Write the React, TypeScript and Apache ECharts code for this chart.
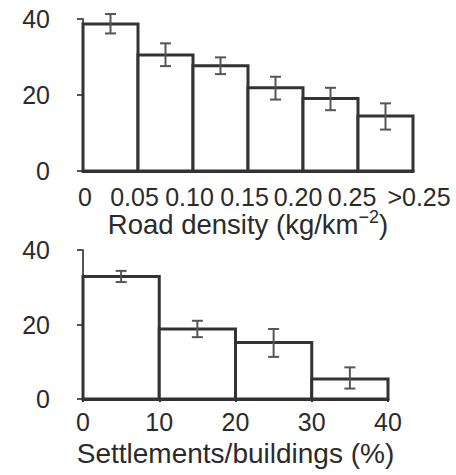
import React, { useEffect, useRef } from "react";
import * as echarts from "echarts";

const roadLabels = ["0", "0.05", "0.10", "0.15", "0.20", "0.25", ">0.25"];
const roadValues = [38.7, 30.5, 27.7, 21.9, 19.1, 14.5];
const roadErrLow = [36.2, 27.6, 25.5, 18.8, 16.0, 10.9];
const roadErrHigh = [41.3, 33.6, 29.9, 24.8, 21.9, 17.8];

const settleEdges = [0, 10, 20, 30, 40];
const settleValues = [32.9, 18.8, 15.2, 5.4];
const settleErrLow = [31.4, 16.6, 11.3, 2.8];
const settleErrHigh = [34.4, 21.0, 18.8, 8.5];

const yTicks = [0, 20, 40];

// horizontal nudges of the hand-set road-density labels (px, + = right)
const roadLabelShift = [2, -3.5, -3.5, -3.5, -5, -6, 6];

const FONT = "Liberation Sans, Arial, Helvetica, sans-serif";
const TEXT = "#2b2b2b";
const BAR = "#333333";
const ERR = "#555555";
const TICK_FS = 25;

function barItem(params: any, api: any) {
  const x0 = api.value(0);
  const x1 = api.value(1);
  const v = api.value(2);
  const p0 = api.coord([x0, v]);
  const p1 = api.coord([x1, 0]);
  return {
    type: "rect",
    shape: { x: p0[0], y: p0[1], width: p1[0] - p0[0], height: p1[1] - p0[1] },
    style: { fill: "#ffffff", stroke: BAR, lineWidth: 3 },
  };
}

function errItem(params: any, api: any) {
  const xc = (api.value(0) + api.value(1)) / 2;
  const lo = api.coord([xc, api.value(3)]);
  const hi = api.coord([xc, api.value(4)]);
  const w = 5.5;
  const style = { stroke: ERR, lineWidth: 2 };
  return {
    type: "group",
    children: [
      { type: "line", shape: { x1: lo[0], y1: lo[1], x2: hi[0], y2: hi[1] }, style },
      { type: "line", shape: { x1: lo[0] - w, y1: lo[1], x2: lo[0] + w, y2: lo[1] }, style },
      { type: "line", shape: { x1: hi[0] - w, y1: hi[1], x2: hi[0] + w, y2: hi[1] }, style },
    ],
  };
}

export default function App() {
  const ref = useRef<HTMLDivElement>(null);
  useEffect(() => {
    if (!ref.current) return;
    const chart = echarts.init(ref.current, undefined, { renderer: "svg" });
    const roadData = roadValues.map((v, i) => [i, i + 1, v, roadErrLow[i], roadErrHigh[i]]);
    const settleData = settleValues.map((v, i) => [
      settleEdges[i],
      settleEdges[i + 1],
      v,
      settleErrLow[i],
      settleErrHigh[i],
    ]);
    const roadRich: any = {};
    roadLabelShift.forEach((s, i) => {
      roadRich["l" + i] = {
        fontSize: TICK_FS,
        color: TEXT,
        fontFamily: FONT,
        padding: s >= 0 ? [0, 0, 0, 2 * s] : [0, -2 * s, 0, 0],
      };
    });
    const yAxisCommon = {
      type: "value",
      min: yTicks[0],
      max: yTicks[yTicks.length - 1],
      interval: 20,
      offset: 20,
      axisLine: { show: true, lineStyle: { color: "#555", width: 2 } },
      axisTick: { show: true, length: 6, lineStyle: { color: "#555", width: 2 } },
      splitLine: { show: false },
      axisLabel: { fontSize: TICK_FS, color: TEXT, fontFamily: FONT, margin: 13 },
    };
    chart.setOption({
      animation: false,
      backgroundColor: "#ffffff",
      grid: [
        { left: 83, right: 43, top: 19, height: 152 },
        { left: 83, right: 68, top: 250, height: 149 },
      ],
      xAxis: [
        {
          type: "value",
          gridIndex: 0,
          min: 0,
          max: 6,
          interval: 1,
          axisLine: { show: true, lineStyle: { color: BAR, width: 3 } },
          axisTick: { show: false },
          splitLine: { show: false },
          axisLabel: {
            fontSize: TICK_FS,
            color: TEXT,
            fontFamily: FONT,
            margin: 13,
            formatter: (val: number) => {
              const i = Math.round(val);
              return "{l" + i + "|" + roadLabels[i] + "}";
            },
            rich: roadRich,
          },
          name: "{n|Road density (kg/km}{s|−2}{n|)}",
          nameLocation: "middle",
          nameGap: 37,
          nameMoveOverlap: false,
          nameTextStyle: {
            rich: {
              n: { fontSize: 27.5, color: TEXT, fontFamily: FONT, lineHeight: 32 },
              s: { fontSize: 18, color: TEXT, fontFamily: FONT, lineHeight: 16, verticalAlign: "top" },
            },
          },
        },
        {
          type: "value",
          gridIndex: 1,
          min: settleEdges[0],
          max: settleEdges[settleEdges.length - 1],
          interval: 10,
          axisLine: { show: true, lineStyle: { color: BAR, width: 3 } },
          axisTick: { show: true, length: 3, lineStyle: { color: BAR, width: 2 } },
          splitLine: { show: false },
          axisLabel: { fontSize: TICK_FS, color: TEXT, fontFamily: FONT, margin: 10 },
          name: "Settlements/buildings (%)",
          nameLocation: "middle",
          nameGap: 40,
          nameMoveOverlap: false,
          nameTextStyle: { fontSize: 28, color: TEXT, fontFamily: FONT },
        },
      ],
      yAxis: [
        { ...yAxisCommon, gridIndex: 0 },
        { ...yAxisCommon, gridIndex: 1 },
      ],
      series: [
        { type: "custom", xAxisIndex: 0, yAxisIndex: 0, data: roadData, renderItem: barItem, clip: false, z: 2 },
        { type: "custom", xAxisIndex: 0, yAxisIndex: 0, data: roadData, renderItem: errItem, clip: false, z: 3 },
        { type: "custom", xAxisIndex: 1, yAxisIndex: 1, data: settleData, renderItem: barItem, clip: false, z: 2 },
        { type: "custom", xAxisIndex: 1, yAxisIndex: 1, data: settleData, renderItem: errItem, clip: false, z: 3 },
      ],
    });
    return () => chart.dispose();
  }, []);
  return (
    <div
      ref={ref}
      style={{ position: "absolute", left: 0, top: 0, width: 456, height: 475, background: "#fff" }}
    />
  );
}
